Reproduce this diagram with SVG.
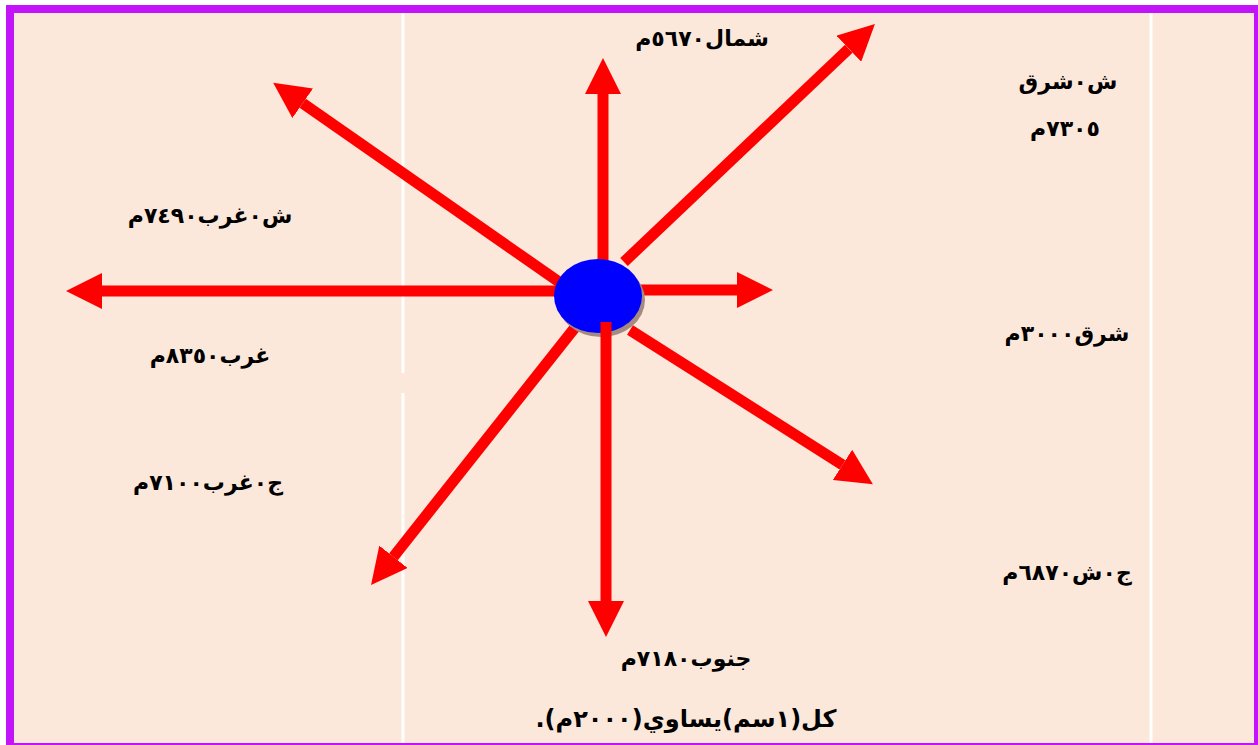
<svg xmlns="http://www.w3.org/2000/svg" width="1258" height="745" viewBox="0 0 1258 745">
<style>
.lbl{font-family:"DejaVu Sans","Noto Sans",sans-serif;font-weight:bold;font-size:22px;fill:#000;text-anchor:middle;direction:rtl}
.arr{stroke:#ff0000;stroke-width:11;fill:none;marker-end:url(#ah)}
.sep{stroke:#ffffff;stroke-width:3}
</style>
<defs>
<marker id="ah" viewBox="0 0 36 36" refX="0" refY="18" markerWidth="36" markerHeight="36" markerUnits="userSpaceOnUse" orient="auto">
<path d="M0,0 L36,18 L0,36 Z" fill="#ff0000"/>
</marker>
</defs>
<rect x="10" y="9" width="1248" height="738" fill="#fce8da" stroke="#c213f9" stroke-width="8"/>
<g id="separators">
<line class="sep" x1="403" y1="13" x2="403" y2="373"/>
<line class="sep" x1="403" y1="393" x2="403" y2="743"/>
<line class="sep" x1="1151" y1="13" x2="1151" y2="743"/>
</g>
<g id="connectors">
<line class="arr" x1="603" y1="265" x2="603" y2="94"/>
<line class="arr" x1="624" y1="262" x2="848.8" y2="48.7"/>
<line class="arr" x1="562" y1="284" x2="302.7" y2="103.3"/>
<line class="arr" x1="560" y1="291" x2="102" y2="291"/>
<line class="arr" x1="636" y1="290" x2="737" y2="290"/>
<line class="arr" x1="630" y1="330" x2="842.5" y2="464.9"/>
<line class="arr" x1="577" y1="325" x2="393.4" y2="556.8"/>
</g>
<g id="center">
<ellipse cx="601" cy="300" rx="44" ry="37" fill="#a58a80"/>
<ellipse cx="598" cy="296" rx="44" ry="37" fill="#0000ff"/>
</g>
<g id="connector-south">
<line class="arr" x1="606" y1="322" x2="606" y2="601"/>
</g>
<g id="label-n"><text class="lbl" x="702" y="46">شمال٥٦٧٠م</text></g>
<g id="label-ne"><text class="lbl" x="1068" y="89">ش٠شرق</text><text class="lbl" x="1065" y="136">٧٣٠٥م</text></g>
<g id="label-nw"><text class="lbl" x="210" y="223">ش٠غرب٧٤٩٠م</text></g>
<g id="label-w"><text class="lbl" x="210" y="363">غرب٨٣٥٠م</text></g>
<g id="label-e"><text class="lbl" x="1067" y="341">شرق٣٠٠٠م</text></g>
<g id="label-sw"><text class="lbl" x="208" y="490">ج٠غرب٧١٠٠م</text></g>
<g id="label-se"><text class="lbl" x="1067" y="580">ج٠ش٦٨٧٠م</text></g>
<g id="label-s"><text class="lbl" x="686" y="666">جنوب٧١٨٠م</text></g>
<g id="scale"><text class="lbl" x="686" y="727" style="font-size:24px">كل(١سم)يساوي(٢٠٠٠م).</text></g>
</svg>
